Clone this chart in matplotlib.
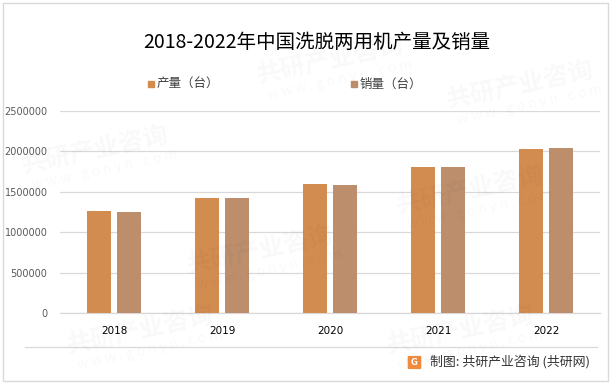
import matplotlib.pyplot as plt
import numpy as np
from matplotlib.patches import Rectangle, FancyBboxPatch
from matplotlib.lines import Line2D

plt.rcParams['font.family'] = ['Noto Sans CJK SC', 'DejaVu Sans']

years = ["2018", "2019", "2020", "2021", "2022"]
production = [1262000, 1423000, 1597000, 1810000, 2030000]
sales = [1250000, 1420000, 1584000, 1810000, 2040000]
yticks = [0, 500000, 1000000, 1500000, 2000000, 2500000]

c_prod = "#D38C50"
c_sales = "#BC8E6C"
grid_c = "#D9D9D9"

W, H = 614, 387
fig = plt.figure(figsize=(W / 100, H / 100), dpi=100)
fig.patch.set_facecolor("white")


def fx(px):
    return px / W


def fy(py):
    return 1 - py / H


# watermarks, very faint
for (x, y) in [(95, 150), (330, 60), (260, 250), (470, 190), (520, 85), (140, 330), (460, 330)]:
    fig.text(fx(x), fy(y), "共研产业咨询", fontsize=18, fontweight="bold", color="#000000",
             alpha=0.028, rotation=12, ha="center", va="center")
    fig.text(fx(x + 10), fy(y + 20), "w w w . g o n y n . c o m", fontsize=10, color="#000000",
             alpha=0.028, rotation=12, ha="center", va="center")

ax = fig.add_axes([fx(60), fy(313), fx(600) - fx(60), fy(111) - fy(313)])
x = np.arange(len(years))
w = 0.225
ax.bar(x - 0.137, production, width=w, color=c_prod, zorder=3)
ax.bar(x + 0.137, sales, width=w, color=c_sales, zorder=3)

ax.set_xlim(-0.5, len(years) - 0.5)
ax.set_ylim(0, 2500000)
ax.set_yticks(yticks)
ax.set_yticklabels([str(v) for v in yticks], family="DejaVu Sans", fontsize=7, color="#595959")
ax.set_xticks(x)
ax.set_xticklabels(years, family="DejaVu Sans", fontsize=7.5, color="#000000")
ax.tick_params(axis="y", length=0, pad=9)
ax.tick_params(axis="x", length=0, pad=9)
ax.grid(axis="y", color=grid_c, linewidth=0.9, zorder=0)
for s in ["left", "right", "top"]:
    ax.spines[s].set_visible(False)
ax.spines["bottom"].set_color(grid_c)
ax.spines["bottom"].set_linewidth(0.9)
ax.set_facecolor("none")

# title
fig.text(fx(317), fy(42), "2018-2022年中国洗脱两用机产量及销量", fontsize=14,
         ha="center", va="center", color="#000000")

# legend
for px, label, col in [(148, "产量（台）", c_prod), (351, "销量（台）", c_sales)]:
    fig.patches.append(Rectangle((fx(px), fy(87)), fx(6), 6 / H, color=col,
                                 transform=fig.transFigure, figure=fig))
    fig.text(fx(px + 9), fy(84.5), label, fontsize=9, ha="left", va="center", color="#404040")

# footer
fig.lines.append(Line2D([fx(25), fx(597)], [fy(347), fy(347)], color=grid_c, linewidth=0.9,
                        transform=fig.transFigure, figure=fig))
fig.patches.append(FancyBboxPatch((fx(409), fy(368)), fx(11), 11 / H,
                                  boxstyle="round,pad=0.001", color="#F08A3C",
                                  transform=fig.transFigure, figure=fig))
fig.text(fx(414.5), fy(362.5), "G", fontsize=6, fontweight="bold", color="white",
         ha="center", va="center", family="DejaVu Sans")
fig.text(fx(430), fy(362), "制图: 共研产业咨询 (共研网)", fontsize=9.3, ha="left", va="center",
         color="#333333")

# outer border
fig.patches.append(Rectangle((fx(3), fy(381)), fx(605), 378 / H, fill=False,
                             edgecolor=grid_c, linewidth=1,
                             transform=fig.transFigure, figure=fig))

fig.savefig("out.png", dpi=100, facecolor="white")
